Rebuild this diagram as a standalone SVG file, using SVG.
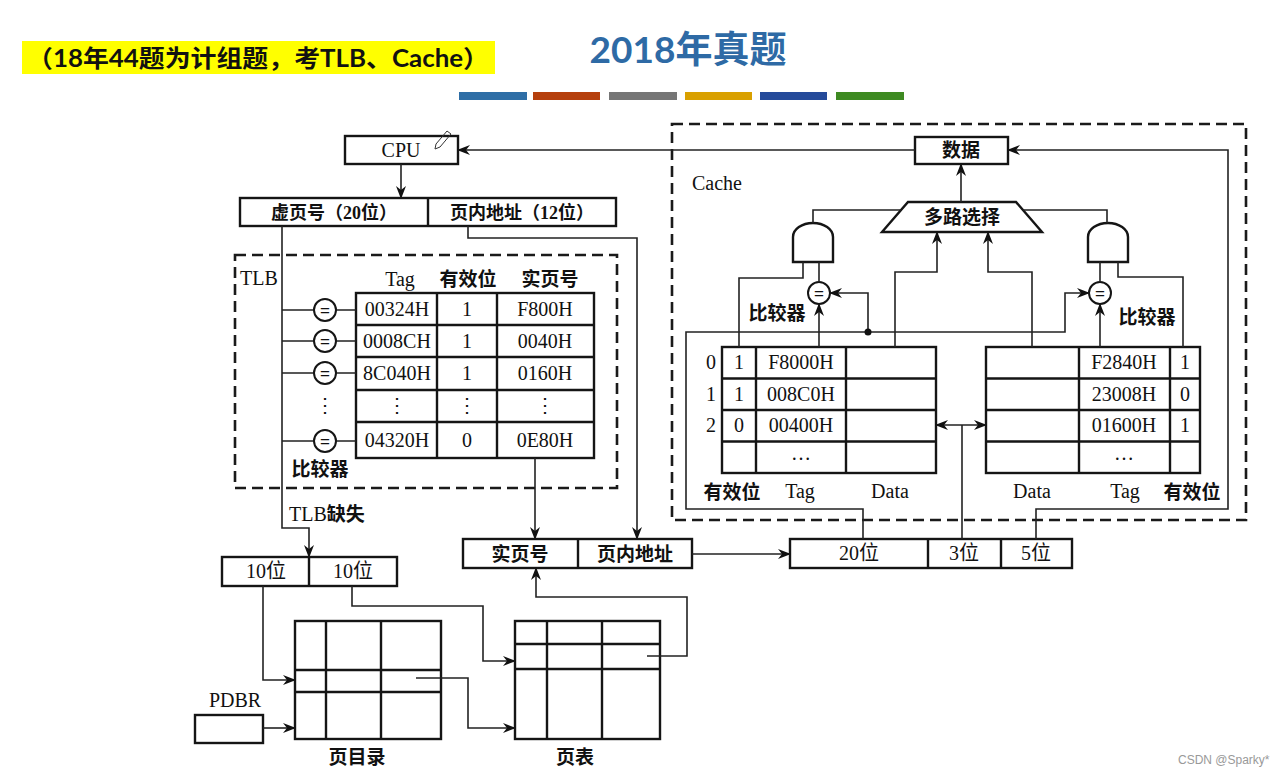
<svg xmlns="http://www.w3.org/2000/svg" width="1286" height="777" viewBox="0 0 1286 777">
<style>
.box{fill:#fff;stroke:#151515;stroke-width:2.4}
.grid{fill:none;stroke:#151515;stroke-width:2.4}
.dash{fill:none;stroke:#1a1a1a;stroke-width:2.6;stroke-dasharray:11 6}
.ln{fill:none;stroke:#222;stroke-width:1.6}
.t{font-family:"Liberation Serif","Noto Sans CJK SC",serif;font-size:20px;fill:#111;text-anchor:middle}
.v{font-family:"Liberation Serif","Noto Sans CJK SC",serif;font-size:20px;fill:#111;text-anchor:middle}
.cn{font-family:"Liberation Serif","Noto Sans CJK SC",serif;font-size:19px;fill:#111;text-anchor:middle;font-weight:bold}
.cs{font-family:"Liberation Serif","Noto Sans CJK SC",serif;font-size:18px;fill:#111;text-anchor:middle;font-weight:bold}
.eq{font-family:"Liberation Sans",sans-serif;font-size:17px;fill:#111;text-anchor:middle}
</style>
<defs>
<marker id="ar" markerUnits="userSpaceOnUse" markerWidth="14" markerHeight="10" refX="12" refY="5" orient="auto">
<path d="M0,0 L13,5 L0,10 L4,5 Z" fill="#111"/>
</marker>
<marker id="as" markerUnits="userSpaceOnUse" markerWidth="14" markerHeight="10" refX="1" refY="5" orient="auto">
<path d="M13,0 L0,5 L13,10 L9,5 Z" fill="#111"/>
</marker>
</defs>
<rect width="1286" height="777" fill="#fff"/>

<g id="header">
<rect x="22" y="41" width="473" height="33" fill="#ffff00"/>
<text x="27" y="67" font-family="Lato,'Noto Sans CJK SC',sans-serif" font-size="24" font-weight="bold" fill="#111" textLength="462" lengthAdjust="spacingAndGlyphs">（18年44题为计组题，考TLB、Cache）</text>
<text x="688" y="63" font-family="Lato,'Noto Sans CJK SC',sans-serif" font-size="37" font-weight="bold" fill="#2e6aa5" text-anchor="middle">2018年真题</text>
<rect x="459" y="92" width="68" height="8" fill="#2e6ea6"/>
<rect x="533" y="92" width="67" height="8" fill="#b5400d"/>
<rect x="609" y="92" width="68" height="8" fill="#767676"/>
<rect x="685" y="92" width="67" height="8" fill="#d9a000"/>
<rect x="760" y="92" width="67" height="8" fill="#254a9a"/>
<rect x="836" y="92" width="68" height="8" fill="#3e8a22"/>
</g>

<g id="cpu">
<rect class="box" x="345" y="136" width="113" height="28"/>
<text class="t" x="401" y="157">CPU</text>
<path d="M436,144 L447,131 L451,134 L440,147 L435,149 Z" fill="none" stroke="#333" stroke-width="1"/>
</g>

<g id="vaddr">
<rect class="box" x="240" y="198" width="376" height="28"/>
<line class="grid" x1="428" y1="198" x2="428" y2="226"/>
<text class="cs" x="334" y="219">虚页号（20位）</text>
<text class="cs" x="522" y="219">页内地址（12位）</text>
</g>

<g id="tlb">
<rect class="dash" x="235" y="255" width="382" height="233"/>
<text class="t" x="259" y="285">TLB</text>
<text class="t" x="400" y="286">Tag</text>
<text class="cn" x="468" y="286">有效位</text>
<text class="cn" x="550" y="286">实页号</text>
<rect class="box" x="356" y="293" width="238" height="165"/>
<path class="grid" d="M437,293 V458 M497,293 V458 M356,325 H594 M356,357 H594 M356,390 H594 M356,422 H594"/>
<text class="v" x="397" y="316">00324H</text><text class="v" x="467" y="316">1</text><text class="v" x="545" y="316">F800H</text>
<text class="v" x="397" y="348">0008CH</text><text class="v" x="467" y="348">1</text><text class="v" x="545" y="348">0040H</text>
<text class="v" x="397" y="380">8C040H</text><text class="v" x="467" y="380">1</text><text class="v" x="545" y="380">0160H</text>
<text class="v" x="397" y="412">⋮</text><text class="v" x="467" y="412">⋮</text><text class="v" x="545" y="412">⋮</text>
<text class="v" x="397" y="447">04320H</text><text class="v" x="467" y="447">0</text><text class="v" x="545" y="447">0E80H</text>
<g id="tlb-cmp">
<path class="ln" d="M282,310 H314 M336,310 H356 M282,341 H314 M336,341 H356 M282,373 H314 M336,373 H356 M282,441 H314 M336,441 H356"/>
<circle cx="325" cy="310" r="11" fill="#fff" stroke="#151515" stroke-width="2"/>
<circle cx="325" cy="341" r="11" fill="#fff" stroke="#151515" stroke-width="2"/>
<circle cx="325" cy="373" r="11" fill="#fff" stroke="#151515" stroke-width="2"/>
<circle cx="325" cy="441" r="11" fill="#fff" stroke="#151515" stroke-width="2"/>
<text class="eq" x="325" y="316">=</text>
<text class="eq" x="325" y="347">=</text>
<text class="eq" x="325" y="379">=</text>
<text class="eq" x="325" y="447">=</text>
<text class="v" x="325" y="412">⋮</text>
</g>
<text class="cn" x="320" y="476">比较器</text>
</g>

<g id="cache">
<rect class="dash" x="672" y="124" width="574" height="396"/>
<text class="t" x="717" y="190">Cache</text>
</g>

<g id="data">
<rect class="box" x="915" y="137" width="93" height="27"/>
<text class="cn" x="961" y="157">数据</text>
</g>

<g id="mux">
<polygon points="908,202 1016,202 1042,232 882,232" fill="#fff" stroke="#151515" stroke-width="2.4"/>
<text class="cn" x="962" y="224">多路选择</text>
</g>

<g id="and-left">
<path d="M793,262 V237 A20,14 0 0 1 833,237 V262 Z" fill="#fff" stroke="#151515" stroke-width="2.4"/>
</g>
<g id="and-right">
<path d="M1088,262 V237 A20,14 0 0 1 1128,237 V262 Z" fill="#fff" stroke="#151515" stroke-width="2.4"/>
</g>

<g id="cmp-left">
<circle cx="819" cy="293" r="11" fill="#fff" stroke="#151515" stroke-width="2"/>
<text class="eq" x="819" y="299">=</text>
<text class="cn" x="777" y="320">比较器</text>
</g>
<g id="cmp-right">
<circle cx="1100" cy="293" r="11" fill="#fff" stroke="#151515" stroke-width="2"/>
<text class="eq" x="1100" y="299">=</text>
<text class="cn" x="1147" y="324">比较器</text>
</g>

<g id="cache-left-table">
<rect class="box" x="722" y="347" width="214" height="126"/>
<path class="grid" d="M756,347 V473 M846,347 V473 M722,378.5 H936 M722,410 H936 M722,441.5 H936"/>
<text class="v" x="711" y="369">0</text><text class="v" x="739" y="369">1</text><text class="v" x="801" y="369">F8000H</text>
<text class="v" x="711" y="401">1</text><text class="v" x="739" y="401">1</text><text class="v" x="801" y="401">008C0H</text>
<text class="v" x="711" y="432">2</text><text class="v" x="739" y="432">0</text><text class="v" x="801" y="432">00400H</text>
<text class="v" x="801" y="460">…</text>
<text class="cn" x="732" y="499">有效位</text>
<text class="t" x="800" y="498">Tag</text>
<text class="t" x="890" y="498">Data</text>
</g>

<g id="cache-right-table">
<rect class="box" x="986" y="347" width="214" height="126"/>
<path class="grid" d="M1079,347 V473 M1170,347 V473 M986,378.5 H1200 M986,410 H1200 M986,441.5 H1200"/>
<text class="v" x="1124" y="369">F2840H</text><text class="v" x="1185" y="369">1</text>
<text class="v" x="1124" y="401">23008H</text><text class="v" x="1185" y="401">0</text>
<text class="v" x="1124" y="432">01600H</text><text class="v" x="1185" y="432">1</text>
<text class="v" x="1124" y="460">…</text>
<text class="t" x="1032" y="498">Data</text>
<text class="t" x="1125" y="498">Tag</text>
<text class="cn" x="1192" y="499">有效位</text>
</g>

<g id="paddr">
<rect class="box" x="463" y="539" width="229" height="29"/>
<line class="grid" x1="578" y1="539" x2="578" y2="568"/>
<text class="cn" x="520" y="561">实页号</text>
<text class="cn" x="635" y="561">页内地址</text>
</g>

<g id="caddr">
<rect class="box" x="790" y="539" width="282" height="29"/>
<path class="grid" d="M928,539 V568 M1001,539 V568"/>
<text class="t" x="859" y="560">20位</text>
<text class="t" x="964" y="560">3位</text>
<text class="t" x="1036" y="560">5位</text>
</g>

<g id="split">
<rect class="box" x="222" y="557" width="175" height="29"/>
<line class="grid" x1="309" y1="557" x2="309" y2="586"/>
<text class="t" x="266" y="578">10位</text>
<text class="t" x="353" y="578">10位</text>
</g>

<g id="pdbr">
<rect class="box" x="195" y="715" width="68" height="28"/>
<text class="t" x="235" y="707">PDBR</text>
</g>

<g id="pagedir">
<rect class="box" x="295" y="621" width="146" height="118"/>
<path class="grid" d="M326,621 V739 M381,621 V739 M295,670 H441 M295,692 H441"/>
<text class="cn" x="357" y="764">页目录</text>
</g>

<g id="pagetable">
<rect class="box" x="515" y="621" width="145" height="118"/>
<path class="grid" d="M547,621 V739 M602,621 V739 M515,644 H660 M515,669 H660"/>
<text class="cn" x="575" y="764">页表</text>
</g>

<g id="connectors">
<path class="ln" d="M401,164 V198" marker-end="url(#ar)"/>
<path class="ln" d="M915,150 H458" marker-end="url(#ar)"/>
<path class="ln" d="M468,226 V238 H637 V539" marker-end="url(#ar)"/>
<path class="ln" d="M282,226 V528 H309 V557" marker-end="url(#ar)"/>
<text class="t" x="289" y="521" style="text-anchor:start">TLB<tspan font-weight="bold" font-size="19">缺失</tspan></text>
<path class="ln" d="M535,458 V539" marker-end="url(#ar)"/>
<path class="ln" d="M692,554 H790" marker-end="url(#ar)"/>
<path class="ln" d="M961,202 V164" marker-end="url(#ar)"/>
<path class="ln" d="M813,223 V210 H901"/>
<path class="ln" d="M1107,223 V210 H1023"/>
<path class="ln" d="M803,262 V278 H739 V347"/>
<path class="ln" d="M819,262 V282"/>
<path class="ln" d="M1100,262 V282"/>
<path class="ln" d="M1118,262 V277 H1183 V347"/>
<path class="ln" d="M819,347 V304" marker-end="url(#ar)"/>
<path class="ln" d="M1100,347 V304" marker-end="url(#ar)"/>
<path class="ln" d="M895,347 V272 H937 V232" marker-end="url(#ar)"/>
<path class="ln" d="M1032,347 V272 H988 V232" marker-end="url(#ar)"/>
<path class="ln" d="M863,539 V509 H686 V332 H1065 V293 H1089" marker-end="url(#ar)"/>
<path class="ln" d="M868,332 V293 H830" marker-end="url(#ar)"/>
<circle cx="868" cy="332" r="3.5" fill="#111"/>
<path class="ln" d="M1036,539 V509 H1228 V150 H1008" marker-end="url(#ar)"/>
<path class="ln" d="M936,425 H986" marker-start="url(#as)" marker-end="url(#ar)"/>
<path class="ln" d="M962,425 V539"/>
<path class="ln" d="M263,586 V680 H295" marker-end="url(#ar)"/>
<path class="ln" d="M352,586 V606 H483 V661 H515" marker-end="url(#ar)"/>
<path class="ln" d="M416,678 H468 V728 H515" marker-end="url(#ar)"/>
<path class="ln" d="M263,728 H295" marker-end="url(#ar)"/>
<path class="ln" d="M647,656 H687 V597 H536 V568" marker-end="url(#ar)"/>
</g>

<text x="1178" y="764" font-family="'Liberation Sans',sans-serif" font-size="12" fill="#999">CSDN @Sparky*</text>
</svg>
